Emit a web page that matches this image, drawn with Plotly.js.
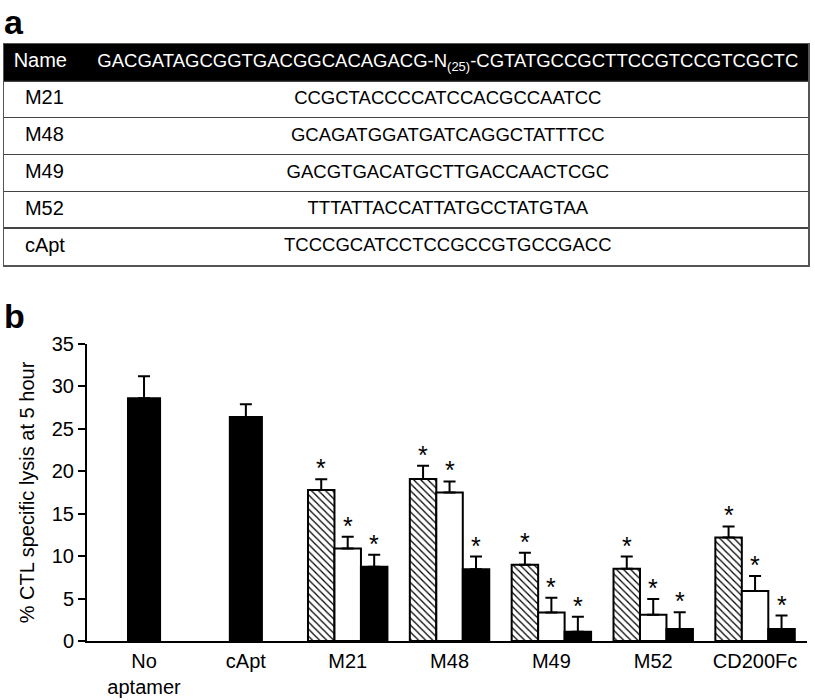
<!DOCTYPE html>
<html><head><meta charset="utf-8">
<script src="https://cdn.plot.ly/plotly-3.0.1.min.js"></script>
<style>html,body{margin:0;padding:0;background:#fff}#chart{width:815px;height:700px}</style>
</head><body><div id="chart"></div>
<script>
// ---------- Panel a: aptamer sequences ----------
const headerName = 'Name';
const headerSeq = 'GACGATAGCGGTGACGGCACAGACG-N<sub>(25)</sub>-CGTATGCCGCTTCCGTCCGTCGCTC';
const aptNames = ['M21', 'M48', 'M49', 'M52', 'cApt'];
const aptSeqs = [
  'CCGCTACCCCATCCACGCCAATCC',
  'GCAGATGGATGATCAGGCTATTTCC',
  'GACGTGACATGCTTGACCAACTCGC',
  'TTTATTACCATTATGCCTATGTAA',
  'TCCCGCATCCTCCGCCGTGCCGACC'
];

// ---------- Panel b: % CTL specific lysis ----------
const categories = ['No<br>aptamer', 'cApt', 'M21', 'M48', 'M49', 'M52', 'CD200Fc'];
const controlNames = ['No<br>aptamer', 'cApt'];
const controlVals = [28.6, 26.4];
const controlErr = [2.6, 1.5];
const groupNames = ['M21', 'M48', 'M49', 'M52', 'CD200Fc'];
const hatchVals = [17.8, 19.1, 9.0, 8.5, 12.2];
const hatchErr = [1.25, 1.55, 1.4, 1.45, 1.3];
const whiteVals = [10.9, 17.5, 3.35, 3.1, 5.9];
const whiteErr = [1.4, 1.3, 1.75, 1.85, 1.75];
const blackVals = [8.75, 8.45, 1.1, 1.4, 1.4];
const blackErr = [1.4, 1.5, 1.75, 2.0, 1.6];
const yTicks = [0, 5, 10, 15, 20, 25, 30, 35];

// ---------- styles ----------
const FONT = 'Liberation Sans, Arial, Helvetica, sans-serif';
const idx = names => names.map(n => categories.indexOf(n));
const ctrlW = 0.315, grpW = 0.26;
const offs = [-1.5 * grpW, -0.5 * grpW, 0.5 * grpW];
const zeros = a => a.map(() => 0);
const errStyle = (arr) => ({type: 'data', symmetric: false, array: arr, arrayminus: zeros(arr),
  color: 'black', thickness: 2, width: 6});
const outline = {color: 'black', width: 2};

const traces = [];

// table header band
traces.push({type: 'bar', orientation: 'h', xaxis: 'x2', yaxis: 'y2',
  x: [1], y: [0.5], base: [0], width: [1], marker: {color: 'black', line: {width: 0}},
  hoverinfo: 'skip'});
// header texts
traces.push({type: 'scatter', mode: 'text', xaxis: 'x2', yaxis: 'y2',
  x: [0.012, 0.552], y: [0.5, 0.5], text: [headerName, headerSeq],
  textposition: ['middle right', 'middle center'],
  textfont: {family: FONT, color: 'white', size: [20, 18.5]}, hoverinfo: 'skip'});
// row names
traces.push({type: 'scatter', mode: 'text', xaxis: 'x2', yaxis: 'y2',
  x: aptNames.map(() => 0.026), y: aptNames.map((_, i) => i + 1.5), text: aptNames,
  textposition: 'middle right', textfont: {family: FONT, color: 'black', size: 20}, hoverinfo: 'skip'});
// row sequences
traces.push({type: 'scatter', mode: 'text', xaxis: 'x2', yaxis: 'y2',
  x: aptSeqs.map(() => 0.552), y: aptSeqs.map((_, i) => i + 1.5), text: aptSeqs,
  textposition: 'middle center', textfont: {family: FONT, color: 'black', size: 18.5}, hoverinfo: 'skip'});

// control bars
traces.push({type: 'bar', x: idx(controlNames), y: controlVals, width: ctrlW, offset: -ctrlW / 2,
  marker: {color: 'black', line: outline}, error_y: errStyle(controlErr)});
// grouped bars
const gx = idx(groupNames);
traces.push({type: 'bar', x: gx, y: hatchVals, width: grpW, offset: offs[0],
  marker: {color: 'white', line: outline,
    pattern: {shape: '\\', fgcolor: 'black', bgcolor: 'white', size: 5, solidity: 0.25}},
  error_y: errStyle(hatchErr)});
traces.push({type: 'bar', x: gx, y: whiteVals, width: grpW, offset: offs[1],
  marker: {color: 'white', line: outline}, error_y: errStyle(whiteErr)});
traces.push({type: 'bar', x: gx, y: blackVals, width: grpW, offset: offs[2],
  marker: {color: 'black', line: outline}, error_y: errStyle(blackErr)});

// significance stars (annotations above each error bar)
const annotations = [];
const series = [[hatchVals, hatchErr], [whiteVals, whiteErr], [blackVals, blackErr]];
series.forEach(([v, e], k) => {
  v.forEach((val, i) => {
    annotations.push({text: '*', xref: 'x', yref: 'y', x: gx[i] + offs[k] + grpW / 2,
      y: val + e[i], xanchor: 'center', yanchor: 'bottom', yshift: -5, showarrow: false,
      font: {family: FONT, size: 25, color: 'black'}});
  });
});

annotations.push(
  {text: '<b>a</b>', xref: 'paper', yref: 'paper', x: 2 / 815, y: (700 - 22) / 700,
    xanchor: 'left', yanchor: 'middle', showarrow: false, font: {size: 34, family: FONT}},
  {text: '<b>b</b>', xref: 'paper', yref: 'paper', x: 2 / 815, y: (700 - 316) / 700,
    xanchor: 'left', yanchor: 'middle', showarrow: false, font: {size: 34, family: FONT}}
);

const layout = {
  width: 815, height: 700, margin: {l: 0, r: 0, t: 0, b: 0},
  paper_bgcolor: 'white', plot_bgcolor: 'rgba(0,0,0,0)', showlegend: false,
  font: {family: FONT, color: 'black'}, barmode: 'overlay',
  xaxis: {domain: [87 / 815, 807 / 815], range: [-0.56, 6.51],
    tickvals: categories.map((_, i) => i), ticktext: categories, ticks: '',
    ticklabelstandoff: 1,
    showline: true, linewidth: 2, linecolor: 'black', showgrid: false, zeroline: false,
    tickfont: {size: 20, family: FONT}},
  yaxis: {domain: [59 / 700, 356 / 700], range: [0, 35], tickvals: yTicks,
    ticks: 'outside', ticklen: 7, tickwidth: 2, tickcolor: 'black',
    showline: true, linewidth: 2, linecolor: 'black', showgrid: false, zeroline: false,
    tickfont: {size: 20, family: FONT},
    title: {text: '% CTL specific lysis at 5 hour', font: {size: 20, family: FONT}, standoff: 12}},
  xaxis2: {domain: [4 / 815, 808 / 815], range: [0, 1], anchor: 'y2',
    showline: true, mirror: true, linecolor: '#555', linewidth: 1.5,
    showgrid: false, zeroline: false, showticklabels: false, ticks: ''},
  yaxis2: {domain: [435 / 700, 656 / 700], range: [6, 0], anchor: 'x2',
    tickvals: [1, 2, 3, 4, 5], showgrid: true, gridcolor: '#444', gridwidth: 1.5,
    showline: true, mirror: true, linecolor: '#555', linewidth: 1.5,
    showticklabels: false, ticks: '', zeroline: false},
  annotations: annotations
};

Plotly.newPlot('chart', traces, layout, {displayModeBar: false, staticPlot: true});
</script>
</body></html>
